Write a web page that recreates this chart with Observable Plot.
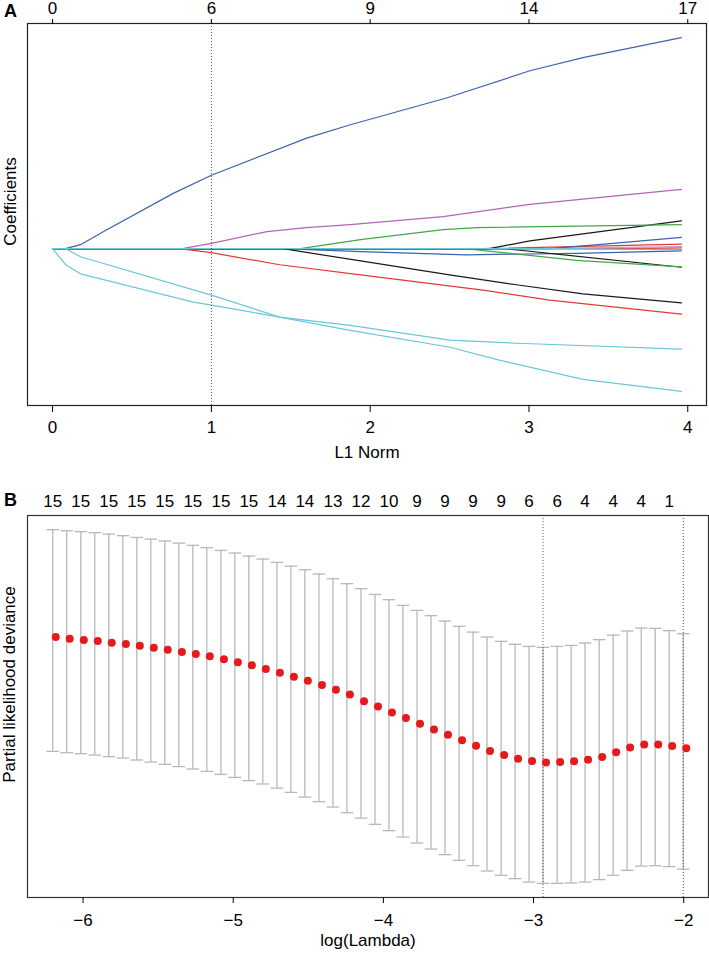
<!DOCTYPE html>
<html><head><meta charset="utf-8">
<script src="https://cdn.jsdelivr.net/npm/d3@7"></script>
<script src="https://cdn.jsdelivr.net/npm/@observablehq/plot@0.6"></script>
<style>
body{margin:0;background:#fff;}
#chart{width:709px;}
#chart svg{display:block;}
</style></head><body><div id="chart"></div>
<script>
// ---------- Panel A: coefficient paths (L1 norm, coefficient) ----------
const l1Ticks = [0, 1, 2, 3, 4];
const dfTop = [0, 6, 9, 14, 17];
const l1Cut = 1;

const coefV1  = [[0,0],[0.082,0],[0.176,0.019],[0.33,0.085],[0.76,0.262],[1.0,0.348],[1.6,0.524],[1.87,0.586],[2.48,0.714],[3.006,0.843],[3.34,0.905],[3.96,1.0]];
const coefV2  = [[0,0],[0.082,-0.076],[0.176,-0.119],[0.88,-0.252],[1.0,-0.267],[1.43,-0.324],[1.874,-0.363],[2.503,-0.433],[2.925,-0.448],[3.96,-0.476]];
const coefV3  = [[0,0],[0.082,0],[0.176,-0.038],[1.0,-0.22],[1.43,-0.324],[1.874,-0.387],[2.503,-0.467],[2.818,-0.529],[3.34,-0.619],[3.96,-0.676]];
const coefV4  = [[0,0],[0.818,0],[1.0,0.025],[1.35,0.081],[1.6,0.1],[1.874,0.114],[2.46,0.152],[3.006,0.21],[3.96,0.281]];
const coefV5  = [[0,0],[0.8,0],[1.0,-0.019],[1.43,-0.076],[1.94,-0.124],[2.71,-0.196],[3.13,-0.244],[3.96,-0.31]];
const coefV6  = [[0,0],[1.45,0],[1.94,-0.058],[2.5,-0.124],[2.92,-0.171],[3.34,-0.214],[3.96,-0.257]];
const coefV7  = [[0,0],[1.56,0],[1.94,0.043],[2.46,0.09],[2.67,0.1],[3.96,0.114]];
const coefV8  = [[0,0],[2.75,0],[3.006,0.037],[3.96,0.132]];
const coefV9  = [[0,0],[3.13,0],[3.51,0.024],[3.96,0.054]];
const coefV10 = [[0,0],[2.7,0],[3.96,0.022]];
const coefV11 = [[0,0],[2.6,0],[3.3,-0.055],[3.96,-0.086]];
const coefV12 = [[0,0],[2.85,0],[3.96,-0.088]];
const coefV13 = [[0,0],[1.45,0],[1.94,-0.014],[2.6,-0.029],[3.3,-0.022],[3.96,-0.01]];
const coefV14 = [[0,0],[3.0,0],[3.96,0.01]];
const coefV15 = [[0,0],[3.2,0],[3.96,-0.006]];
const coefV16 = [[0,0],[3.5,0],[3.96,0.004]];
const coefV17 = [[0,0],[3.6,0],[3.96,-0.004]];

// drawing order: near-zero paths first, cyan paths last (on top)
const paths = [coefV17,coefV16,coefV14,coefV13,coefV12,coefV11,coefV10,coefV9,coefV8,coefV7,coefV6,coefV5,coefV4,coefV1,coefV15,coefV2,coefV3];
const pathColors = ["#45a745","#e53935","#c99ad0","#3e62ac","#1a1a1a","#45a745","#e53935","#3e62ac","#1a1a1a","#45a745","#1a1a1a","#e53935","#b264b4","#3e62ac","#6cc6d8","#6cc6d8","#6cc6d8"];

// ---------- Panel B: cross-validation curve ----------
const logLambda = [-6.202,-6.109,-6.015,-5.922,-5.829,-5.735,-5.642,-5.549,-5.456,-5.362,-5.269,-5.176,-5.082,-4.989,-4.896,-4.803,-4.709,-4.616,-4.523,-4.429,-4.336,-4.243,-4.149,-4.056,-3.963,-3.870,-3.776,-3.683,-3.590,-3.496,-3.403,-3.310,-3.216,-3.123,-3.030,-2.937,-2.843,-2.750,-2.657,-2.563,-2.470,-2.377,-2.283,-2.190,-2.097,-2.003];
const cvm  = [12.578,12.564,12.553,12.544,12.531,12.519,12.506,12.489,12.473,12.453,12.436,12.417,12.392,12.367,12.342,12.311,12.281,12.248,12.214,12.178,12.139,12.098,12.042,12.000,11.948,11.903,11.856,11.808,11.764,11.717,11.672,11.628,11.594,11.564,11.544,11.533,11.536,11.542,11.556,11.578,11.617,11.658,11.683,11.683,11.669,11.650];
const cvup = [13.473,13.464,13.456,13.448,13.436,13.423,13.408,13.394,13.378,13.361,13.342,13.323,13.300,13.278,13.253,13.228,13.200,13.169,13.139,13.103,13.064,13.023,12.981,12.933,12.889,12.842,12.800,12.756,12.711,12.667,12.619,12.578,12.542,12.517,12.500,12.492,12.500,12.508,12.528,12.556,12.594,12.628,12.653,12.650,12.631,12.606];
const cvlo = [11.625,11.614,11.606,11.594,11.581,11.569,11.553,11.536,11.517,11.498,11.478,11.458,11.433,11.408,11.381,11.353,11.319,11.283,11.244,11.206,11.161,11.114,11.069,11.017,10.964,10.911,10.861,10.811,10.764,10.717,10.672,10.628,10.592,10.564,10.536,10.525,10.525,10.528,10.536,10.556,10.592,10.633,10.669,10.672,10.664,10.644];
const nzeroLabels = [15,15,15,15,15,15,15,15,14,14,13,12,10,9,9,9,9,6,6,4,4,4,1];
const logLambdaTicks = [-6, -5, -4, -3, -2];
const lambdaMin = -2.937;
const lambda1se = -2.003;

// ---------- build ----------
const FONT = "'Liberation Sans', Arial, Helvetica, sans-serif";
const FS = 17;

const cvData = logLambda.map((x, i) => ({x, m: cvm[i], up: cvup[i], lo: cvlo[i]}));
const topTickVals = logLambda.filter((_, i) => i % 2 === 0);
const topLabelMap = new Map(topTickVals.map((v, i) => [v, String(nzeroLabels[i])]));
const dfMap = new Map(l1Ticks.map((v, i) => [v, String(dfTop[i])]));
const intFmt = d => (d < 0 ? "\u2212" : "") + Math.abs(d);

const plotA = Plot.plot({
  width: 709, height: 475,
  marginTop: 23, marginBottom: 70, marginLeft: 27, marginRight: 3,
  style: {fontFamily: FONT, fontSize: FS + "px", background: "#fff", color: "#000"},
  x: {domain: [-0.158, 4.118]},
  y: {domain: [-0.743, 1.067], axis: null},
  marks: [
    ...paths.map((p, i) => Plot.line(p, {x: d => d[0], y: d => d[1], stroke: pathColors[i], strokeWidth: 1.2})),
    Plot.ruleX([l1Cut], {stroke: "#555", strokeDasharray: "1,2", strokeWidth: 1}),
    Plot.frame({stroke: "#222", strokeWidth: 1.2}),
    Plot.axisX({anchor: "bottom", ticks: l1Ticks, tickSize: 7, tickPadding: 8, label: null, fontSize: FS, tickFormat: intFmt}),
    Plot.axisX({anchor: "top", ticks: l1Ticks, tickSize: 5, tickPadding: 5, label: null, fontSize: FS, tickFormat: d => dfMap.get(d)}),
    Plot.text(["L1 Norm"], {frameAnchor: "bottom", dy: 52, fontSize: FS}),
    Plot.text(["Coefficients"], {frameAnchor: "left", dx: -17, dy: -13, rotate: -90, fontSize: FS, textAnchor: "middle"}),
    Plot.text(["A"], {frameAnchor: "top-left", dx: -17, dy: -12, fontSize: 18, fontWeight: "bold", textAnchor: "middle", lineAnchor: "middle"})
  ]
});

const plotB = Plot.plot({
  width: 709, height: 479,
  marginTop: 40, marginBottom: 57, marginLeft: 27, marginRight: 1,
  style: {fontFamily: FONT, fontSize: FS + "px", background: "#fff", color: "#000"},
  x: {domain: [-6.370, -1.835]},
  y: {domain: [10.407, 13.591], axis: null},
  marks: [
    Plot.ruleX(cvData, {x: "x", y1: "lo", y2: "up", stroke: "#b8b8b8", strokeWidth: 1.3}),
    Plot.link(cvData, {x1: d => d.x - 0.042, x2: d => d.x + 0.042, y1: "up", y2: "up", stroke: "#b8b8b8", strokeWidth: 1.3}),
    Plot.link(cvData, {x1: d => d.x - 0.042, x2: d => d.x + 0.042, y1: "lo", y2: "lo", stroke: "#b8b8b8", strokeWidth: 1.3}),
    Plot.ruleX([lambdaMin, lambda1se], {stroke: "#555", strokeDasharray: "1,2", strokeWidth: 1}),
    Plot.dot(cvData, {x: "x", y: "m", r: 4, fill: "#e41a1c", stroke: "none", dx: 3}),
    Plot.frame({stroke: "#333", strokeWidth: 1.2}),
    Plot.axisX({anchor: "bottom", ticks: logLambdaTicks, tickSize: 6, tickPadding: 10, label: null, fontSize: FS, tickFormat: intFmt}),
    Plot.axisX({anchor: "top", ticks: topTickVals, tickSize: 0, tickPadding: 9, label: null, fontSize: FS, tickFormat: d => topLabelMap.get(d)}),
    Plot.text(["log(Lambda)"], {frameAnchor: "bottom", dy: 48, fontSize: FS}),
    Plot.text(["Partial likelihood deviance"], {frameAnchor: "left", dx: -18, dy: -22, rotate: -90, fontSize: FS, textAnchor: "middle"}),
    Plot.text(["B"], {frameAnchor: "top-left", dx: -17, dy: -15, fontSize: 18, fontWeight: "bold", textAnchor: "middle", lineAnchor: "middle"})
  ]
});

const root = document.getElementById("chart");
root.appendChild(plotA);
root.appendChild(plotB);
</script>
</body></html>
